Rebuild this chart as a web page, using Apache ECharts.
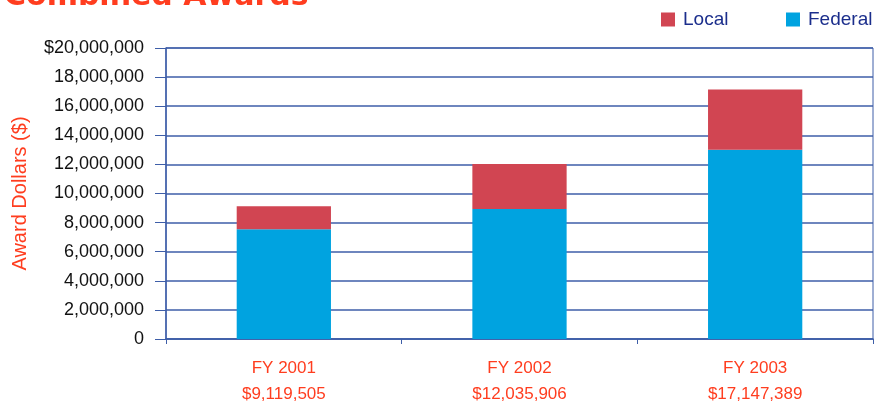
<!DOCTYPE html>
<html><head><meta charset="utf-8">
<script src="https://cdn.jsdelivr.net/npm/echarts@6/dist/echarts.min.js"></script>
<style>html,body{margin:0;padding:0;background:#fff}#c{width:874px;height:408px}</style>
</head><body><div id="c"></div>
<script>
const categories = ['FY 2001', 'FY 2002', 'FY 2003'];
const totalLabels = ['$9,119,505', '$12,035,906', '$17,147,389'];
const federal = [7550000, 8930000, 13000000];
const local = [1569505, 3105906, 4147389];
const yTickLabels = ['0','2,000,000','4,000,000','6,000,000','8,000,000','10,000,000','12,000,000','14,000,000','16,000,000','18,000,000','$20,000,000'];

const orange = '#FF3D1F';
const gridBlue = '#3E5EA8';
const legendText = { color: '#1B2E8C', fontSize: 19, fontFamily: 'Liberation Sans', padding: [0,0,0,3] };
const chart = echarts.init(document.getElementById('c'));
chart.setOption({
  animation: false,
  textStyle: { fontFamily: 'Liberation Sans' },
  graphic: [{
    type: 'text', x: 4, y: -18,
    style: { text: 'Combined Awards', font: 'bold 30px "DejaVu Sans"', fill: orange, letterSpacing: 2 }
  }],
  legend: [
    { left: 661, top: 10, padding: 0, itemWidth: 14, itemHeight: 14, icon: 'rect', data: ['Local'], textStyle: legendText },
    { left: 786, top: 10, padding: 0, itemWidth: 14, itemHeight: 14, icon: 'rect', data: ['Federal'], textStyle: legendText }
  ],
  grid: { left: 166, right: 1, top: 48, bottom: 69, show: true, borderColor: gridBlue, borderWidth: 1, backgroundColor: 'transparent' },
  xAxis: {
    type: 'category', data: categories,
    axisLine: { lineStyle: { color: gridBlue, width: 1.5 } },
    axisTick: { show: true, length: 5, lineStyle: { color: gridBlue } },
    axisLabel: {
      margin: 16, color: orange, fontSize: 17, lineHeight: 26,
      formatter: (v, i) => v + '\n' + totalLabels[i]
    }
  },
  yAxis: {
    type: 'value', min: 0, max: 20000000, interval: 2000000,
    name: 'Award Dollars ($)', nameLocation: 'middle', nameGap: 136,
    nameTextStyle: { color: orange, fontSize: 20 },
    axisLine: { show: true, lineStyle: { color: gridBlue, width: 1.5 } },
    axisTick: { show: true, length: 11, lineStyle: { color: gridBlue } },
    axisLabel: { margin: 22, color: '#111', fontSize: 18,
      formatter: (v) => yTickLabels[Math.round(v / 2000000)] },
    splitLine: { lineStyle: { color: gridBlue, width: 1.5 } }
  },
  series: [
    { name: 'Federal', type: 'bar', stack: 't', data: federal, barWidth: '40%', itemStyle: { color: '#00A3E0' } },
    { name: 'Local', type: 'bar', stack: 't', data: local, barWidth: '40%', itemStyle: { color: '#D14552' } }
  ]
});
</script></body></html>
